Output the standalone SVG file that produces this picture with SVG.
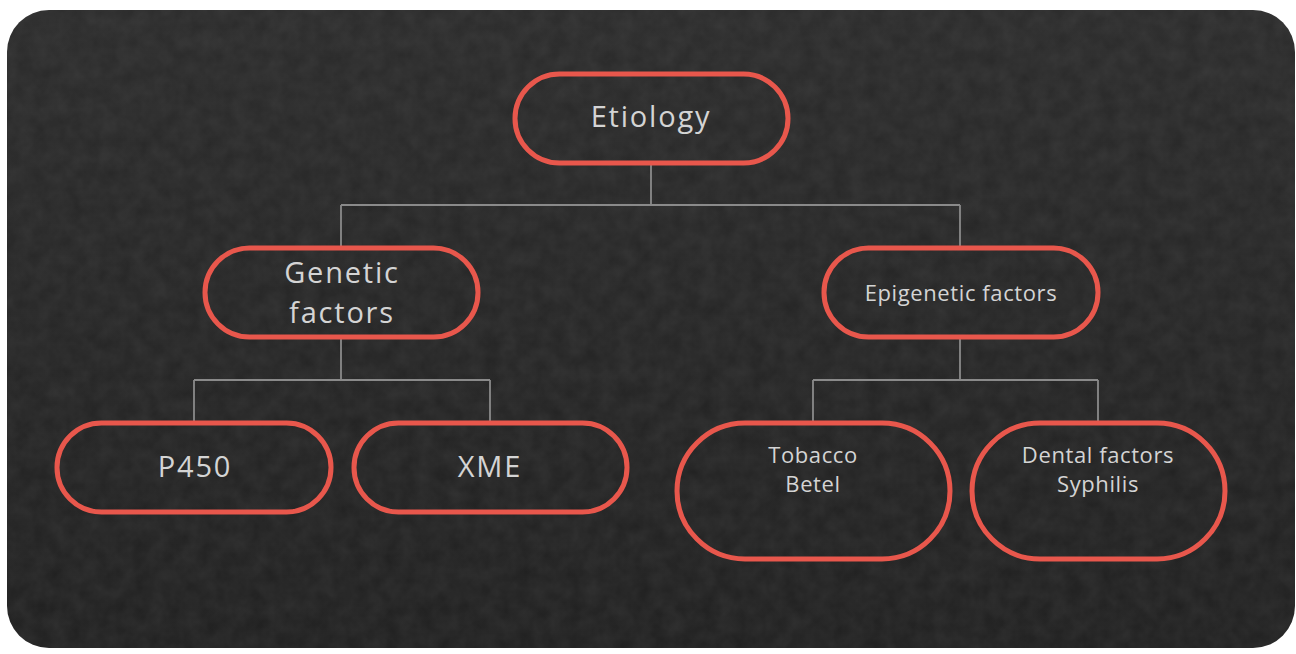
<svg xmlns="http://www.w3.org/2000/svg" width="1296" height="654" viewBox="0 0 1296 654">
<defs>
<filter id="noise" x="0" y="0" width="100%" height="100%">
<feTurbulence type="fractalNoise" baseFrequency="0.06" numOctaves="3" seed="7" result="t"/>
<feColorMatrix in="t" type="matrix" values="0 0 0 0 0.25  0 0 0 0 0.25  0 0 0 0 0.25  0 0 0 0.16 0"/>
</filter>
<linearGradient id="bg" x1="0" y1="0" x2="0" y2="1">
<stop offset="0" stop-color="#2a2a2a"/>
<stop offset="1" stop-color="#1f1f1f"/>
</linearGradient>
<clipPath id="bgclip"><rect x="7" y="10" width="1288" height="638" rx="42"/></clipPath>
</defs>
<style>
.node rect{fill:none;stroke:#e8574c;stroke-width:5}
.node text{fill:#d4d4d4;font-family:"Open Sans",Lato,sans-serif;text-anchor:middle}
.big{font-size:29px;letter-spacing:1.8px}
.small{font-size:22px;letter-spacing:0.6px}
#connectors path{fill:none;stroke:#8a8a8a;stroke-width:1.8}
</style>
<rect width="1296" height="654" fill="#ffffff"/>
<g clip-path="url(#bgclip)">
<rect x="7" y="10" width="1288" height="638" fill="url(#bg)"/>
<rect x="7" y="10" width="1288" height="638" filter="url(#noise)"/>
</g>
<g id="connectors">
<path d="M651 163V205M341 205H960M341 205V247M960 205V247"/>
<path d="M341 338V380M194 380H490M194 380V422M490 380V422"/>
<path d="M960 338V380M813 380H1098M813 380V422M1098 380V422"/>
</g>
<g id="etiology" class="node">
<rect x="515" y="74" width="273" height="89" rx="44.5"/>
<text class="big" x="651" y="127">Etiology</text>
</g>
<g id="genetic" class="node">
<rect x="205" y="248" width="273" height="89" rx="44.5"/>
<text class="big" x="342" y="283">Genetic</text>
<text class="big" x="342" y="323">factors</text>
</g>
<g id="epigenetic" class="node">
<rect x="824" y="248" width="274" height="89" rx="44.5"/>
<text class="small" x="961" y="301">Epigenetic factors</text>
</g>
<g id="p450" class="node">
<rect x="57" y="423" width="274" height="89" rx="44.5"/>
<text class="big" x="195" y="477">P450</text>
</g>
<g id="xme" class="node">
<rect x="354" y="423" width="273" height="89" rx="44.5"/>
<text class="big" x="490" y="477">XME</text>
</g>
<g id="tobacco" class="node">
<rect x="677" y="423" width="273" height="136" rx="68"/>
<text class="small" x="813" y="463">Tobacco</text>
<text class="small" x="813" y="492">Betel</text>
</g>
<g id="dental" class="node">
<rect x="972" y="423" width="253" height="136" rx="68"/>
<text class="small" x="1098" y="463">Dental factors</text>
<text class="small" x="1098" y="492">Syphilis</text>
</g>
</svg>
